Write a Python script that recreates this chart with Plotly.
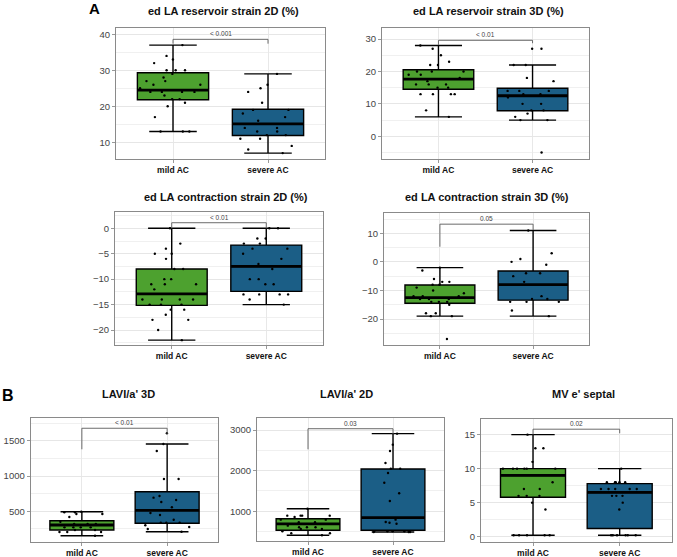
import plotly.graph_objects as go

CATS = ["mild AC", "severe AC"]

# ---------------- data ----------------
# stats lists: [lower whisker, q1, median, q3, upper whisker]
res2d_title = "ed LA reservoir strain 2D (%)"
res2d_mild = [37, 34, 33, 32, 30, 30, 30, 29, 28, 27, 27, 26, 26, 25, 24, 24, 24, 24, 23, 22, 22, 21, 20, 17, 13, 13, 13]
res2d_severe = [29, 26, 25, 24, 21, 19, 19, 18, 17, 16, 14, 14, 13, 13, 12, 12, 11, 11, 9, 8, 7]
res2d_stats_mild = [13, 21.8, 24.5, 29.3, 37]
res2d_stats_severe = [7, 11.9, 15.1, 19.2, 29]
res2d_bracket = [37.4, 38.6, 37.4]
res2d_p = "< 0.001"

res3d_title = "ed LA reservoir strain 3D (%)"
res3d_mild = [28, 27, 25, 23, 22, 22, 20, 20, 20, 19, 19, 18, 17, 16, 16, 16, 15, 15, 13, 13, 13, 13, 8, 6]
res3d_severe = [27, 27, 22, 22, 18, 17, 14, 14, 14, 13, 13, 12, 10, 10, 8, 8, 7, 6, 5, 5, -5]
res3d_stats_mild = [6, 14.5, 17.6, 20.5, 28]
res3d_stats_severe = [5, 7.9, 12.5, 14.8, 22]
res3d_bracket = [28.2, 29.6, 28.7]
res3d_p = "< 0.01"

con2d_title = "ed LA contraction strain 2D (%)"
con2d_mild = [0, -3, -4, -5, -5, -6, -8, -8, -10, -10, -11, -11, -11, -12, -14, -14, -14, -14, -15, -15, -15, -16, -16, -17, -18, -18, -20, -22]
con2d_severe = [0, 0, -2, -2, -3, -3, -4, -4, -5, -6, -7, -8, -10, -10, -11, -11, -13, -13, -13, -13, -14, -15]
con2d_stats_mild = [-22, -15.15, -12.9, -8.0, 0]
con2d_stats_severe = [-15, -12.4, -7.5, -3.3, 0]
con2d_bracket = [0, 1.1, 0]
con2d_p = "< 0.01"

con3d_title = "ed LA contraction strain 3D (%)"
con3d_mild = [-2, -3, -6, -7, -7, -8, -8, -9, -10, -11, -12, -12, -12, -13, -13, -13, -14, -14, -14, -15, -18, -18, -19, -19, -27]
con3d_severe = [11, 3, 1, 0, -1, -4, -4, -5, -7, -12, -13, -13, -14, -14, -14, -17, -19]
con3d_stats_mild = [-19, -14.5, -12.5, -8.1, -2]
con3d_stats_severe = [-19, -13.4, -8.0, -3.2, 11]
con3d_bracket = [5.3, 13.2, 11.2]
con3d_p = "0.05"

lavi3d_title = "LAVI/a' 3D"
lavi3d_mild = [494, 486, 486, 462, 462, 419, 352, 319, 319, 319, 272, 272, 272, 272, 234, 234, 206, 206, 206, 153]
lavi3d_severe = [1609, 1457, 1358, 959, 959, 718, 694, 661, 632, 557, 476, 447, 380, 338, 338, 338, 301, 277, 248, 210]
lavi3d_stats_mild = [153, 234, 305, 366, 494]
lavi3d_stats_severe = [210, 329, 514, 779, 1457]
lavi3d_bracket = [1382, 1681, 1600]
lavi3d_p = "< 0.01"

lavi2d_title = "LAVI/a' 2D"
lavi2d_mild = [1065, 893, 893, 893, 893, 861, 795, 795, 730, 730, 647, 607, 607, 607, 566, 566, 509, 460, 460, 411]
lavi2d_severe = [2910, 2640, 2484, 2189, 2049, 2049, 1943, 1704, 1443, 1254, 795, 738, 720, 696, 509, 509, 509, 509, 492, 492, 492]
lavi2d_stats_mild = [411, 534, 689, 819, 1065]
lavi2d_stats_severe = [492, 534, 844, 2041, 2910]
lavi2d_bracket = [2525, 3032, 2900]
lavi2d_p = "0.03"

mve_title = "MV e' septal"
mve_mild = [15, 13, 13, 11, 10, 10, 10, 10, 10, 10, 8, 7, 7, 6, 6, 6, 5, 4, 0.2, 0.2, 0.2, 0.2, 0.2]
mve_severe = [10, 8, 8, 8, 8, 8, 7, 7, 7, 7, 7, 6, 6, 6, 5, 4, 0.2, 0.2, 0.2, 0.2, 0.2, 0.2]
mve_stats_mild = [0.2, 5.8, 9.0, 10, 15]
mve_stats_severe = [0.2, 1.2, 6.5, 7.8, 10]
mve_bracket = [15, 15.8, 15.2]
mve_p = "0.02"

# ---------------- styling / layout ----------------
W, H = 677, 557
GREEN = "#4da12f"
BLUE = "#1b5e86"
FONT = "Liberation Sans"

panels = [
    dict(title=res2d_title, mild=res2d_mild, severe=res2d_severe, sm=res2d_stats_mild, ss=res2d_stats_severe,
         br=res2d_bracket, p=res2d_p, px=(116, 325), py=(28, 159), yr=(5.36, 41.75), dt=10, mdt=5, tpos=(223, 11)),
    dict(title=res3d_title, mild=res3d_mild, severe=res3d_severe, sm=res3d_stats_mild, ss=res3d_stats_severe,
         br=res3d_bracket, p=res3d_p, px=(382, 589), py=(28.3, 159), yr=(-7.0, 33.3), dt=10, mdt=5, tpos=(488, 11)),
    dict(title=con2d_title, mild=con2d_mild, severe=con2d_severe, sm=con2d_stats_mild, ss=con2d_stats_severe,
         br=con2d_bracket, p=con2d_p, px=(115, 323), py=(211.7, 345), yr=(-22.95, 3.27), dt=5, mdt=2.5, tpos=(226, 197)),
    dict(title=con3d_title, mild=con3d_mild, severe=con3d_severe, sm=con3d_stats_mild, ss=con3d_stats_severe,
         br=con3d_bracket, p=con3d_p, px=(384, 589), py=(213.3, 345), yr=(-29.1, 17.0), dt=10, mdt=5, tpos=(487, 197)),
    dict(title=lavi3d_title, mild=lavi3d_mild, severe=lavi3d_severe, sm=lavi3d_stats_mild, ss=lavi3d_stats_severe,
         br=lavi3d_bracket, p=lavi3d_p, px=(30.7, 218.3), py=(417.7, 541.7), yr=(67.6, 1831), dt=500, mdt=250, tpos=(128, 394)),
    dict(title=lavi2d_title, mild=lavi2d_mild, severe=lavi2d_severe, sm=lavi2d_stats_mild, ss=lavi2d_stats_severe,
         br=lavi2d_bracket, p=lavi2d_p, px=(257, 444), py=(418.3, 541), yr=(270, 3288), dt=1000, mdt=500, tpos=(346, 394)),
    dict(title=mve_title, mild=mve_mild, severe=mve_severe, sm=mve_stats_mild, ss=mve_stats_severe,
         br=mve_bracket, p=mve_p, px=(481, 671.7), py=(419, 541.7), yr=(-0.74, 17.3), dt=5, mdt=2.5, tpos=(583, 394)),
]

fig = go.Figure()
annotations = []
layout_axes = {}

for i, pnl in enumerate(panels, start=1):
    xa = "x" if i == 1 else f"x{i}"
    ya = "y" if i == 1 else f"y{i}"
    for cat, stats, vals, color in [(CATS[0], pnl["sm"], pnl["mild"], GREEN),
                                    (CATS[1], pnl["ss"], pnl["severe"], BLUE)]:
        lo, q1, med, q3, hi = stats
        # main box
        fig.add_trace(go.Box(
            x=[cat], q1=[q1], median=[med], q3=[q3], lowerfence=[lo], upperfence=[hi],
            fillcolor=color, line=dict(color="black", width=1.4), width=0.75, whiskerwidth=0.667,
            boxpoints=False, xaxis=xa, yaxis=ya, showlegend=False, hoverinfo="skip"))
        # thick median line
        fig.add_trace(go.Box(
            x=[cat], q1=[med], median=[med], q3=[med], lowerfence=[med], upperfence=[med],
            fillcolor="rgba(0,0,0,0)", line=dict(color="black", width=2.8), width=0.75, whiskerwidth=0,
            boxpoints=False, xaxis=xa, yaxis=ya, showlegend=False, hoverinfo="skip"))
        # jittered points
        fig.add_trace(go.Box(
            x=[cat] * len(vals), y=vals, boxpoints="all", jitter=0.95, pointpos=0, width=0.75,
            fillcolor="rgba(0,0,0,0)", line=dict(color="rgba(0,0,0,0)", width=0),
            marker=dict(size=2.4, color="black"), xaxis=xa, yaxis=ya, showlegend=False,
            hoverinfo="skip"))
    # significance bracket
    lt, lvl, rt = pnl["br"]
    fig.add_trace(go.Scatter(
        x=[CATS[0], CATS[0], CATS[1], CATS[1]], y=[lt, lvl, lvl, rt], mode="lines",
        line=dict(color="#5a5a5a", width=0.9), xaxis=xa, yaxis=ya, showlegend=False, hoverinfo="skip"))
    annotations.append(dict(
        x=0.5, y=lvl, xref=xa, yref=ya, text=pnl["p"], showarrow=False, yanchor="bottom", yshift=0,
        font=dict(family=FONT, size=6.5, color="#444")))
    # title
    tx, ty = pnl["tpos"]
    annotations.append(dict(
        x=tx / W, y=1 - ty / H, xref="paper", yref="paper", text=f"<b>{pnl['title']}</b>",
        showarrow=False, xanchor="center", yanchor="middle",
        font=dict(family=FONT, size=11, color="#111")))
    x0, x1 = pnl["px"]
    y0, y1 = pnl["py"]
    layout_axes["xaxis" if i == 1 else f"xaxis{i}"] = dict(
        domain=[x0 / W, x1 / W], anchor=ya, type="category", categoryorder="array", categoryarray=CATS,
        range=[-0.6, 1.6], showgrid=True, gridcolor="#e8e8e8", gridwidth=0.8,
        showline=True, mirror=True, linecolor="#8a8a8a", linewidth=1.1,
        ticks="outside", ticklen=3, tickcolor="#999", tickwidth=0.6,
        tickfont=dict(family=FONT, size=8.5, color="#111", weight="bold"), fixedrange=True)
    layout_axes["yaxis" if i == 1 else f"yaxis{i}"] = dict(
        domain=[1 - y1 / H, 1 - y0 / H], anchor=xa, range=list(pnl["yr"]), dtick=pnl["dt"], tick0=0,
        showgrid=True, gridcolor="#e6e6e6", gridwidth=0.8, zeroline=False,
        minor=dict(dtick=pnl["mdt"], tick0=0, showgrid=True, gridcolor="#f0f0f0", gridwidth=0.6),
        showline=True, mirror=True, linecolor="#8a8a8a", linewidth=1.1,
        ticks="outside", ticklen=3, tickcolor="#999", tickwidth=0.6,
        tickfont=dict(family=FONT, size=9.5, color="#444"), fixedrange=True)

annotations.append(dict(x=94.5 / W, y=1 - 8.5 / H, xref="paper", yref="paper", text="<b>A</b>",
                        showarrow=False, xanchor="center", yanchor="middle",
                        font=dict(family=FONT, size=15, color="black")))
annotations.append(dict(x=7.5 / W, y=1 - 395 / H, xref="paper", yref="paper", text="<b>B</b>",
                        showarrow=False, xanchor="center", yanchor="middle",
                        font=dict(family=FONT, size=16, color="black")))

fig.update_layout(
    width=W, height=H, margin=dict(l=0, r=0, t=0, b=0),
    paper_bgcolor="white", plot_bgcolor="white", boxmode="overlay",
    annotations=annotations, **layout_axes)

fig.write_html("out.html")
